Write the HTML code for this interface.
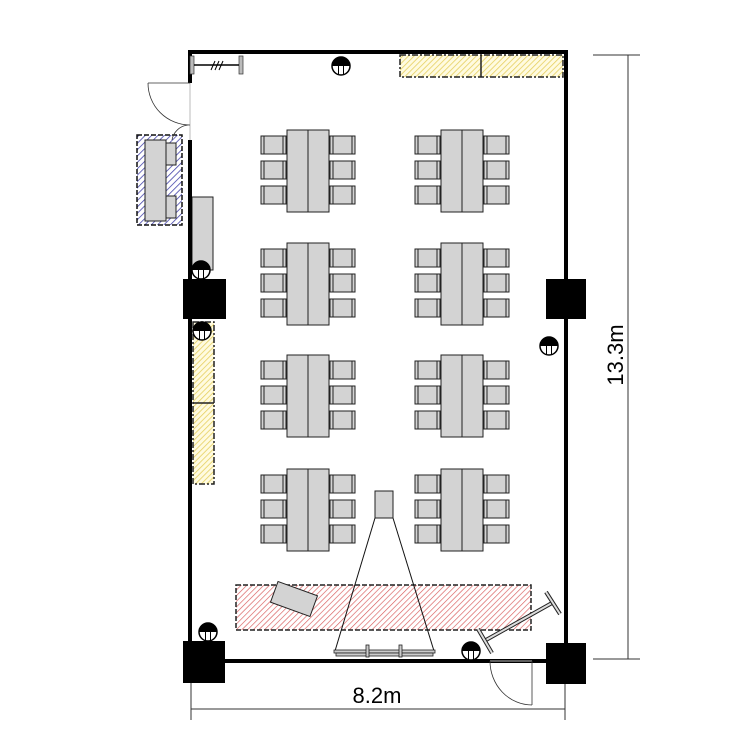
<!DOCTYPE html>
<html><head><meta charset="utf-8"><style>html,body{margin:0;padding:0;background:#fff}svg{display:block}</style></head>
<body>
<svg width="750" height="750" viewBox="0 0 750 750" xmlns="http://www.w3.org/2000/svg">
<defs>
<pattern id="hy" width="4" height="4" patternUnits="userSpaceOnUse" patternTransform="rotate(45)"><rect width="4" height="4" fill="#fffbe0"/><line x1="0" y1="0" x2="0" y2="4" stroke="#e6d060" stroke-width="1.6"/></pattern>
<pattern id="hb" width="4.5" height="4.5" patternUnits="userSpaceOnUse" patternTransform="rotate(45)"><rect width="5" height="5" fill="#fff"/><line x1="0" y1="0" x2="0" y2="5" stroke="#4444aa" stroke-width="1.6"/></pattern>
<pattern id="hr" width="4" height="4" patternUnits="userSpaceOnUse" patternTransform="rotate(45)"><rect width="4" height="4" fill="#fff"/><line x1="0" y1="0" x2="0" y2="4" stroke="#d85a5a" stroke-width="1.3"/></pattern>
<g id="chair"><rect x="0" y="0" width="25" height="18" fill="#d3d3d3" stroke="#222" stroke-width="1"/><line x1="3" y1="0" x2="3" y2="18" stroke="#222"/><line x1="22" y1="0" x2="22" y2="18" stroke="#222"/></g>
<g id="tg">
<use href="#chair" x="261" y="136"/><use href="#chair" x="261" y="161"/><use href="#chair" x="261" y="186"/>
<use href="#chair" x="330" y="136"/><use href="#chair" x="330" y="161"/><use href="#chair" x="330" y="186"/>
<rect x="287" y="130" width="42" height="82" fill="#d3d3d3" stroke="#222"/><line x1="308" y1="130" x2="308" y2="212" stroke="#222"/>
</g>
<g id="out"><circle r="9" fill="#fff" stroke="#000" stroke-width="1.5"/><path d="M-9,0 A9,9 0 0 1 9,0 Z" fill="#000"/><line x1="-2.5" y1="0" x2="-2.5" y2="8" stroke="#000"/><line x1="2.5" y1="0" x2="2.5" y2="8" stroke="#000"/></g>
</defs>

<use href="#tg"/><use href="#tg" x="154"/>
<use href="#tg" y="113"/><use href="#tg" x="154" y="113"/>
<use href="#tg" y="225"/><use href="#tg" x="154" y="225"/>
<use href="#tg" y="339"/><use href="#tg" x="154" y="339"/>

<rect x="400" y="55" width="163" height="22" fill="url(#hy)" stroke="#222" stroke-width="1.5" stroke-dasharray="6,2,2,2"/><line x1="481" y1="55" x2="481" y2="77" stroke="#222" stroke-width="1.5"/>
<rect x="193" y="322" width="21" height="162" fill="url(#hy)" stroke="#222" stroke-width="1.5" stroke-dasharray="6,2,2,2"/><line x1="193" y1="403" x2="214" y2="403" stroke="#222" stroke-width="1.5"/>

<rect x="137" y="135" width="45" height="90" fill="url(#hb)" stroke="#111" stroke-width="1.5" stroke-dasharray="5,2"/>
<rect x="145" y="140" width="21" height="81" fill="#d3d3d3" stroke="#222"/>
<rect x="166" y="143" width="10" height="22" fill="#d3d3d3" stroke="#222"/>
<rect x="166" y="196" width="10" height="22" fill="#d3d3d3" stroke="#222"/>
<rect x="192" y="197" width="21" height="73" fill="#d3d3d3" stroke="#222"/>

<rect x="236" y="585" width="295" height="45" fill="url(#hr)" stroke="#222" stroke-width="1.5" stroke-dasharray="5,2"/>
<rect x="273" y="588" width="42" height="22" fill="#d3d3d3" stroke="#222" transform="rotate(20 294 599)"/>

<rect x="375" y="491" width="18" height="27" fill="#d3d3d3" stroke="#222"/>
<line x1="375" y1="518" x2="335" y2="651" stroke="#111"/><line x1="393" y1="518" x2="434" y2="651" stroke="#111"/>
<rect x="334" y="650" width="101" height="3" fill="#ccc" stroke="#222" stroke-width="0.8"/>
<rect x="336" y="653" width="97" height="3" fill="#ccc" stroke="#222" stroke-width="0.8"/>
<rect x="366" y="645" width="3" height="12" fill="#ccc" stroke="#222" stroke-width="0.8"/>
<rect x="399" y="645" width="3" height="12" fill="#ccc" stroke="#222" stroke-width="0.8"/>

<line x1="486" y1="640" x2="552" y2="603" stroke="#222" stroke-width="4"/><line x1="486" y1="640" x2="552" y2="603" stroke="#ddd" stroke-width="2"/>
<line x1="478" y1="629" x2="492" y2="653" stroke="#222" stroke-width="4"/><line x1="478" y1="629" x2="492" y2="653" stroke="#ddd" stroke-width="2"/>
<line x1="546" y1="592" x2="560" y2="614" stroke="#222" stroke-width="4"/><line x1="546" y1="592" x2="560" y2="614" stroke="#ddd" stroke-width="2"/>

<path d="M190,83 V52 H566 V661 H490 M532,661 H190 V140" fill="none" stroke="#000" stroke-width="4"/>
<line x1="190" y1="83" x2="190" y2="140" stroke="#bbb" stroke-width="1"/>
<line x1="490" y1="661" x2="532" y2="661" stroke="#bbb" stroke-width="1"/>
<rect x="190" y="56" width="4" height="18" fill="#bbb" stroke="#333" stroke-width="0.7"/>
<rect x="239" y="56" width="4" height="18" fill="#bbb" stroke="#333" stroke-width="0.7"/>
<line x1="194" y1="65" x2="239" y2="65" stroke="#000" stroke-width="1.5"/>
<path d="M211,70 l4,-9 M215,70 l4,-9 M219,70 l4,-9" stroke="#000"/>
<path d="M148,83 H190 M148,83 A42,42 0 0 0 190,125 M172,140 A18,18 0 0 1 188,125" fill="none" stroke="#333" stroke-width="0.8"/>
<path d="M532,661 V705 M490,661 A42,44 0 0 0 532,705" fill="none" stroke="#333" stroke-width="0.8"/>
<rect x="183" y="279" width="43" height="40" fill="#000"/>
<rect x="546" y="279" width="40" height="40" fill="#000"/>
<rect x="183" y="641" width="42" height="42" fill="#000"/>
<rect x="546" y="643" width="40" height="41" fill="#000"/>
<use href="#out" x="341" y="66"/><use href="#out" x="201" y="270"/><use href="#out" x="202" y="331"/>
<use href="#out" x="549" y="346"/><use href="#out" x="208" y="632"/><use href="#out" x="471" y="651"/>

<line x1="191" y1="683" x2="191" y2="720" stroke="#333"/><line x1="565" y1="684" x2="565" y2="720" stroke="#333"/>
<line x1="191" y1="709" x2="565" y2="709" stroke="#333"/>
<text x="377" y="703" font-family="Liberation Sans, sans-serif" font-size="22" text-anchor="middle">8.2m</text>
<line x1="593" y1="55" x2="640" y2="55" stroke="#333"/><line x1="593" y1="659" x2="640" y2="659" stroke="#333"/>
<line x1="628" y1="55" x2="628" y2="659" stroke="#333"/>
<text transform="translate(623,355) rotate(-90)" font-family="Liberation Sans, sans-serif" font-size="22" text-anchor="middle">13.3m</text>
</svg>
</body></html>
